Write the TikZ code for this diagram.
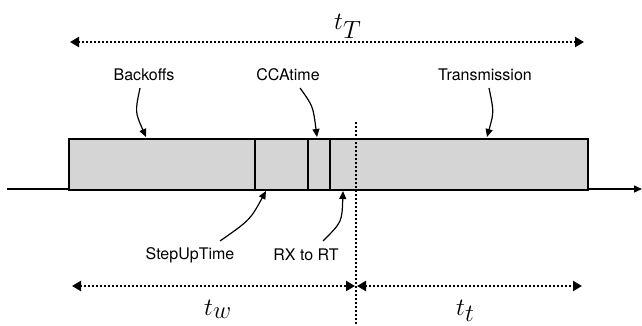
\documentclass[tikz,border=0pt]{standalone}
\usepackage{fontspec}
\setmainfont{TeX Gyre Heros}
\usetikzlibrary{arrows.meta}
\definecolor{boxgray}{RGB}{213,213,213}
\tikzset{
  lbl/.style={font=\fontsize{16}{18}\selectfont, inner sep=1pt},
  mlbl/.style={font=\fontsize{36}{40}\selectfont, inner sep=0pt},
  dotline/.style={line width=2.4pt, dash pattern=on 2pt off 2pt},
  dotarrow/.style={dotline, {Triangle[length=9pt,width=10pt]}-{Triangle[length=9pt,width=10pt]}},
  callout/.style={line width=1.2pt, -{Triangle[length=8pt,width=7pt]}},
}
\begin{document}
\begin{tikzpicture}[x=1pt,y=-1pt]
\useasboundingbox (0,0) rectangle (642,326);
% axis
\coordinate (axL) at (7,189);
\coordinate (axR) at (642,189);
\draw[line width=1.4pt, -{Triangle[length=8pt,width=7pt]}] (axL) -- (axR);
% box
\node[draw, line width=1.6pt, fill=boxgray, minimum width=519pt, minimum height=51pt, inner sep=0pt, anchor=north west] (box) at (68,138) {};
\coordinate (d1t) at (255,138); \coordinate (d1b) at (255,189);
\coordinate (d2t) at (308,138); \coordinate (d2b) at (308,189);
\coordinate (d3t) at (330,138); \coordinate (d3b) at (330,189);
\draw[line width=1.6pt] (d1t) -- (d1b);
\draw[line width=2.6pt] (d2t) -- (d2b);
\draw[line width=2.6pt] (d3t) -- (d3b);
% dotted vertical
\coordinate (vt) at (356,122);
\coordinate (vb) at (356,326);
\draw[dotline] (vt) -- (vb);
% top arrow
\coordinate (tL) at (70,42); \coordinate (tR) at (584,42);
\draw[dotarrow] (tL) -- (tR);
\node[mlbl, anchor=base west] (tT) at (334,30) {$t_T$};
% labels top
\node[lbl] (back) at (144,75) {Backoffs};
\node[lbl] (cca) at (288,75) {CCAtime};
\node[lbl] (trans) at (485,75) {Transmission};
\coordinate (backS) at (140,88);
\coordinate (ccaS) at (300,88);
\coordinate (transS) at (489,88);
\coordinate (backE) at (146,137);
\coordinate (ccaE) at (317,137);
\coordinate (transE) at (487,137);
\draw[callout] (backS) .. controls (135,112) .. (backE);
\draw[callout] (ccaS) .. controls (313,106) .. (ccaE);
\draw[callout] (transS) .. controls (494,112) .. (transE);
% labels bottom
\node[lbl] (step) at (190,255) {StepUpTime};
\node[lbl] (rx) at (306,255) {RX to RT};
\coordinate (stepS) at (220,241);
\coordinate (rxS) at (323,241);
\coordinate (stepE) at (266,191);
\coordinate (rxE) at (343,191);
\draw[callout] (stepS) .. controls (250,220) .. (stepE);
\draw[callout] (rxS) .. controls (342,222) .. (rxE);
% bottom arrows
\coordinate (bL) at (72,286); \coordinate (bM1) at (355,286);
\coordinate (bM2) at (357,286); \coordinate (bR) at (582,286);
\draw[dotarrow] (bL) -- (bM1);
\draw[dotarrow] (bM2) -- (bR);
\node[mlbl, anchor=base west] (tw) at (204,315) {$t_w$};
\node[mlbl, anchor=base west] (tt) at (456,315) {$t_t$};
\end{tikzpicture}
\end{document}
